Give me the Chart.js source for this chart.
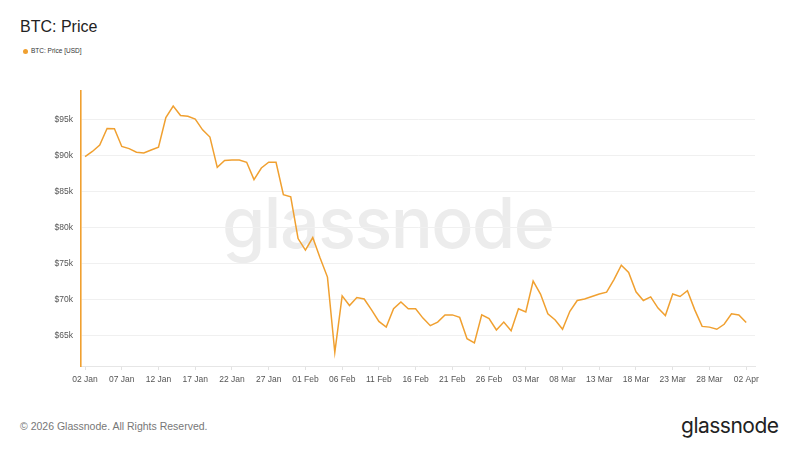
<html>
<head>
<style>
body { margin: 0; background: #fff; font-family: "Liberation Sans", Arial, sans-serif; }
#wrap { position: relative; width: 800px; height: 450px; overflow: hidden; }
#myChart { position: absolute; left: 0; top: 0; z-index: 2; }
.abs { position: absolute; white-space: nowrap; }
#title { left: 20px; top: 18px; font-size: 16px; color: #222; }
#legend { left: 23px; top: 47px; font-size: 6.5px; color: #333; }
#legend span { display: inline-block; width: 5px; height: 5px; border-radius: 50%; background: #f0a030; margin-right: 3px; vertical-align: middle; }
#watermark { left: 222px; top: 180px; font-family: Inter, sans-serif; font-size: 70px; font-weight: 500; color: #ececec; z-index: 1; letter-spacing: -1.5px; }
#copy { left: 20px; top: 420px; font-size: 10.5px; color: #777; }
#logo { left: 681px; top: 413px; font-family: Inter, sans-serif; font-size: 21px; color: #222; letter-spacing: -0.5px; }
</style>
</head>
<body>
<div id="wrap">
    <div class="abs" id="title">BTC: Price</div>
    <div class="abs" id="legend"><span></span>BTC: Price [USD]</div>
    <div class="abs" id="watermark">glassnode</div>
    <canvas id="myChart" width="800" height="450"></canvas>
    <div class="abs" id="copy">© 2026 Glassnode. All Rights Reserved.</div>
    <div class="abs" id="logo">glassnode</div>
</div>
<script type="text/javascript" src="https://cdn.jsdelivr.net/npm/chart.js@4/dist/chart.umd.min.js"></script>
<script>
// daily close, 02 Jan .. 02 Apr 2026 (91 days), in USD
var prices = [
    89900, 90600, 91500, 93800, 93750, 91300, 91000, 90500, 90400, 90800,
    91200, 95300, 96900, 95600, 95500, 95100, 93600, 92600, 88400, 89350,
    89400, 89400, 89100, 86700, 88300, 89100, 89100, 84600, 84300, 78500,
    76900, 78650, 75800, 73150, 62700, 70550, 69200, 70300, 70100, 68600,
    67000, 66200, 68750, 69700, 68750, 68750, 67450, 66400, 66900, 67900,
    67900, 67550, 64600, 64000, 67900, 67400, 65800, 66900, 65700, 68750,
    68300, 72600, 70800, 68050, 67200, 65900, 68400, 69900, 70100, 70450,
    70800, 71050, 72800, 74800, 73800, 71100, 69900, 70400, 68850, 67800,
    70800, 70450, 71250, 68600, 66300, 66200, 65900, 66600, 68050, 67900,
    66850
];
var xTickLabels = ['02 Jan', '07 Jan', '12 Jan', '17 Jan', '22 Jan', '27 Jan', '01 Feb', '06 Feb', '11 Feb',
    '16 Feb', '21 Feb', '26 Feb', '03 Mar', '08 Mar', '13 Mar', '18 Mar', '23 Mar', '28 Mar', '02 Apr'];
var yTickValues = [65000, 70000, 75000, 80000, 85000, 90000, 95000];

function getPoints(values) {
    var pts = [];
    for (var i = 0; i < values.length; i++) {
        pts.push({x: i, y: values[i]});
    }
    return pts;
}

var ctx = document.getElementById('myChart').getContext('2d');
var chart = new Chart(ctx, {
    type: 'line',
    data: {
        datasets: [{
            label: 'BTC: Price [USD]',
            data: getPoints(prices),
            borderColor: '#f0a030',
            borderWidth: 1.5,
            pointRadius: 0,
            tension: 0
        }]
    },
    options: {
        responsive: false,
        animation: false,
        layout: { padding: { left: 0, top: 91, right: 45, bottom: 0 } },
        plugins: { legend: { display: false }, tooltip: { enabled: false } },
        scales: {
            x: {
                type: 'linear',
                min: -0.55,
                max: 91.2,
                afterBuildTicks: function (axis) {
                    axis.ticks = xTickLabels.map(function (l, i) { return {value: i * 5}; });
                },
                afterFit: function (axis) { axis.height = 84; },
                ticks: {
                    autoSkip: false,
                    maxRotation: 0,
                    padding: 5,
                    color: '#555',
                    font: { family: 'Liberation Sans', size: 8.5 },
                    callback: function (v) { return xTickLabels[Math.round(v / 5)]; }
                },
                grid: { drawOnChartArea: false, drawTicks: true, tickLength: 4, color: '#e2e2e2' },
                border: { color: '#e6e6e6', width: 1 }
            },
            y: {
                min: 60800,
                max: 99000,
                afterBuildTicks: function (axis) {
                    axis.ticks = yTickValues.map(function (v) { return {value: v}; });
                },
                afterFit: function (axis) { axis.width = 81; },
                ticks: {
                    padding: 8,
                    color: '#555',
                    font: { family: 'Liberation Sans', size: 8.5 },
                    callback: function (v) { return '$' + (v / 1000) + 'k'; }
                },
                grid: { drawTicks: false, color: '#f0f0f0' },
                border: { color: '#f0a030', width: 1.6 }
            }
        }
    }
});
</script>
</body>
</html>
